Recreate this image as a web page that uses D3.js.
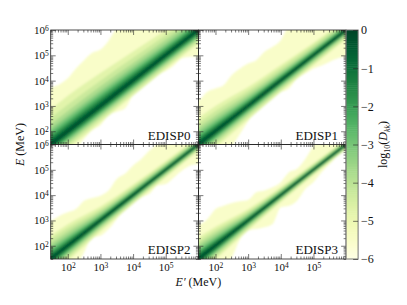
<!DOCTYPE html>
<html>
<head>
<meta charset="utf-8">
<script src="https://cdn.jsdelivr.net/npm/d3@7"></script>
<style>
  body { margin: 0; background: #fff; }
  text { font-family: "Liberation Serif", serif; fill: #111; }
</style>
</head>
<body>
<div id="chart"></div>
<script>
// panel names
var panelNames = ["EDISP0", "EDISP1", "EDISP2", "EDISP3"];

// log10 E' where the outer (-6) edge was read
var outerKnots = [1.25, 1.5, 1.75, 2, 2.25, 2.5, 2.75, 3, 3.25, 3.5, 3.75, 4, 4.25, 4.5, 4.75, 5, 5.25, 5.5, 5.75, 6, 6.25];

// outer edge, log10 E
var outerUpper0 = [3.6, 3.73, 3.86, 4.09, 4.48, 4.81, 5.1, 5.23, 5.58, 6.1, 6.5, 6.5, 6.5, 6.5, 6.5, 6.5, 6.5, 6.5, 6.5, 6.5, 6.5];
var outerLower0 = [1, 1, 1, 1, 1.3, 1.7, 2.04, 2.24, 2.63, 2.77, 2.9, 3.43, 3.73, 3.98, 4.22, 4.38, 4.6, 4.88, 4.94, 4.94, 4.94];
var outerUpper1 = [3.1, 3.23, 3.56, 3.69, 3.82, 4.22, 4.48, 4.68, 4.81, 5.14, 5.34, 5.6, 6.2, 6.5, 6.5, 6.5, 6.5, 6.5, 6.5, 6.5, 6.5];
var outerLower1 = [1, 1, 1, 1, 1, 1.4, 1.9, 2.4, 2.83, 3.3, 3.5, 3.56, 3.69, 4.09, 4.28, 4.48, 4.6, 4.75, 4.88, 4.94, 4.94];
var outerUpper2 = [2.9, 3.0, 3.19, 3.32, 3.45, 3.78, 3.89, 3.98, 4.18, 4.64, 4.84, 5.17, 5.43, 5.76, 6.05, 6.5, 6.5, 6.5, 6.5, 6.5, 6.5];
var outerLower2 = [1, 1, 1, 1, 1.2, 1.74, 2.33, 2.4, 2.66, 3.05, 3.45, 3.72, 3.91, 4.05, 4.38, 4.44, 4.7, 4.97, 5.17, 5.23, 5.23];
var outerUpper3 = [2.9, 2.86, 3.05, 3.45, 3.58, 3.69, 3.76, 3.81, 4.11, 4.18, 4.31, 4.51, 4.9, 5.04, 5.43, 5.96, 6.5, 6.5, 6.5, 6.5, 6.5];
var outerLower3 = [1, 1, 1, 1, 1.3, 1.55, 2.26, 2.6, 2.66, 2.73, 2.86, 3.52, 3.58, 3.78, 4.24, 4.51, 4.9, 5.23, 5.56, 5.76, 5.8];

// log10 E' where the inner contours were read
var innerKnots = [1.25, 2, 3, 4, 5, 6.25];
// log10 D_kk of each inner contour
var innerLevels = [-5, -4.5, -4, -3.5, -3, -2.5, -2, -1.5, -1, -0.5];

// inner contours, dex above/below the diagonal, one row per level
var innerUpper0 = [
  [1.35, 1.4, 1.3, 1.15, 1.0, 0.85],
  [1.05, 1.05, 1.0, 0.9, 0.8, 0.7],
  [0.8, 0.8, 0.78, 0.7, 0.62, 0.55],
  [0.62, 0.62, 0.6, 0.55, 0.48, 0.43],
  [0.5, 0.5, 0.48, 0.43, 0.38, 0.34],
  [0.4, 0.4, 0.38, 0.34, 0.3, 0.27],
  [0.31, 0.31, 0.29, 0.26, 0.23, 0.21],
  [0.23, 0.23, 0.21, 0.19, 0.17, 0.15],
  [0.15, 0.15, 0.14, 0.12, 0.11, 0.1],
  [0.08, 0.08, 0.07, 0.065, 0.06, 0.06]];
var innerLower0 = [
  [-0.7, -0.7, -0.65, -0.6, -0.55, -0.55],
  [-0.58, -0.58, -0.54, -0.5, -0.46, -0.46],
  [-0.48, -0.48, -0.45, -0.41, -0.38, -0.38],
  [-0.4, -0.4, -0.37, -0.34, -0.31, -0.31],
  [-0.33, -0.33, -0.31, -0.28, -0.26, -0.26],
  [-0.27, -0.27, -0.25, -0.23, -0.21, -0.21],
  [-0.22, -0.22, -0.2, -0.18, -0.16, -0.16],
  [-0.16, -0.16, -0.15, -0.13, -0.12, -0.12],
  [-0.11, -0.11, -0.1, -0.09, -0.08, -0.08],
  [-0.06, -0.06, -0.06, -0.05, -0.05, -0.05]];
var innerUpper1 = [
  [1.05, 1.0, 0.75, 0.62, 0.5, 0.42],
  [0.85, 0.8, 0.6, 0.5, 0.42, 0.35],
  [0.68, 0.62, 0.47, 0.38, 0.32, 0.28],
  [0.54, 0.48, 0.36, 0.3, 0.25, 0.22],
  [0.43, 0.38, 0.28, 0.23, 0.2, 0.17],
  [0.34, 0.3, 0.22, 0.19, 0.16, 0.14],
  [0.26, 0.23, 0.17, 0.14, 0.12, 0.11],
  [0.2, 0.17, 0.13, 0.11, 0.09, 0.085],
  [0.13, 0.11, 0.09, 0.08, 0.07, 0.065],
  [0.07, 0.065, 0.05, 0.045, 0.04, 0.04]];
var innerLower1 = [
  [-0.68, -0.65, -0.55, -0.45, -0.4, -0.35],
  [-0.56, -0.53, -0.44, -0.37, -0.33, -0.29],
  [-0.46, -0.43, -0.35, -0.3, -0.26, -0.23],
  [-0.38, -0.35, -0.28, -0.24, -0.21, -0.18],
  [-0.31, -0.28, -0.22, -0.19, -0.16, -0.14],
  [-0.25, -0.23, -0.18, -0.15, -0.13, -0.12],
  [-0.2, -0.18, -0.14, -0.115, -0.1, -0.09],
  [-0.15, -0.13, -0.1, -0.085, -0.08, -0.075],
  [-0.1, -0.09, -0.07, -0.065, -0.06, -0.06],
  [-0.06, -0.055, -0.045, -0.04, -0.035, -0.035]];
var innerUpper2 = [
  [0.95, 0.85, 0.55, 0.42, 0.35, 0.3],
  [0.8, 0.7, 0.44, 0.34, 0.28, 0.25],
  [0.65, 0.55, 0.35, 0.27, 0.23, 0.2],
  [0.52, 0.43, 0.27, 0.21, 0.18, 0.16],
  [0.42, 0.34, 0.21, 0.17, 0.14, 0.13],
  [0.33, 0.27, 0.17, 0.13, 0.11, 0.1],
  [0.25, 0.2, 0.13, 0.1, 0.09, 0.08],
  [0.19, 0.15, 0.1, 0.08, 0.07, 0.065],
  [0.13, 0.1, 0.075, 0.06, 0.055, 0.05],
  [0.07, 0.06, 0.045, 0.04, 0.035, 0.035]];
var innerLower2 = [
  [-0.65, -0.6, -0.45, -0.35, -0.3, -0.27],
  [-0.54, -0.49, -0.36, -0.28, -0.24, -0.22],
  [-0.45, -0.4, -0.29, -0.23, -0.19, -0.17],
  [-0.37, -0.32, -0.23, -0.18, -0.15, -0.14],
  [-0.3, -0.26, -0.18, -0.14, -0.12, -0.11],
  [-0.25, -0.21, -0.14, -0.11, -0.1, -0.09],
  [-0.2, -0.16, -0.11, -0.09, -0.08, -0.07],
  [-0.15, -0.12, -0.08, -0.07, -0.06, -0.055],
  [-0.1, -0.08, -0.06, -0.05, -0.045, -0.045],
  [-0.06, -0.05, -0.04, -0.035, -0.03, -0.03]];
var innerUpper3 = [
  [0.9, 0.75, 0.45, 0.32, 0.26, 0.22],
  [0.75, 0.62, 0.36, 0.26, 0.21, 0.18],
  [0.62, 0.5, 0.29, 0.21, 0.17, 0.15],
  [0.5, 0.4, 0.23, 0.17, 0.14, 0.12],
  [0.4, 0.31, 0.18, 0.13, 0.11, 0.1],
  [0.32, 0.25, 0.14, 0.105, 0.09, 0.08],
  [0.25, 0.19, 0.11, 0.085, 0.075, 0.07],
  [0.19, 0.15, 0.09, 0.07, 0.06, 0.055],
  [0.13, 0.1, 0.065, 0.055, 0.05, 0.045],
  [0.07, 0.06, 0.04, 0.035, 0.03, 0.03]];
var innerLower3 = [
  [-0.65, -0.55, -0.4, -0.28, -0.22, -0.2],
  [-0.54, -0.45, -0.32, -0.23, -0.18, -0.16],
  [-0.45, -0.37, -0.26, -0.18, -0.14, -0.13],
  [-0.37, -0.3, -0.2, -0.14, -0.115, -0.105],
  [-0.3, -0.25, -0.16, -0.11, -0.09, -0.085],
  [-0.25, -0.2, -0.13, -0.09, -0.075, -0.07],
  [-0.2, -0.16, -0.1, -0.075, -0.065, -0.06],
  [-0.15, -0.12, -0.08, -0.06, -0.055, -0.05],
  [-0.1, -0.08, -0.055, -0.045, -0.04, -0.04],
  [-0.06, -0.05, -0.035, -0.03, -0.027, -0.025]];

var outerUpper = [outerUpper0, outerUpper1, outerUpper2, outerUpper3];
var outerLower = [outerLower0, outerLower1, outerLower2, outerLower3];
var innerUpper = [innerUpper0, innerUpper1, innerUpper2, innerUpper3];
var innerLower = [innerLower0, innerLower1, innerLower2, innerLower3];

// axis ticks
var majorX = [1e2, 1e3, 1e4, 1e5];
var majorY = [1e2, 1e3, 1e4, 1e5, 1e6];
var minorTicks = [];
[1, 2, 3, 4, 5].forEach(function(e) {
  [2, 3, 4, 5, 6, 7, 8, 9].forEach(function(m) {
    if (m * Math.pow(10, e) >= 30) minorTicks.push(m * Math.pow(10, e));
  });
});
var colorTicks = [0, -1, -2, -3, -4, -5, -6];

// layout
var left = 50.7, top_ = 30, panelW = 147.7, panelH = 114.5, barW = 12;

var svg = d3.select("#chart").append("svg")
  .attr("width", 407)
  .attr("height", 305)
  .style("display", "block");

var defs = svg.append("defs");
defs.append("filter").attr("id", "soft")
  .attr("x", "-5%").attr("y", "-5%").attr("width", "110%").attr("height", "110%")
  .append("feGaussianBlur").attr("stdDeviation", 0.8);
defs.append("clipPath").attr("id", "panelClip").append("rect")
  .attr("width", panelW).attr("height", panelH);

var x = d3.scaleLog().domain([30, 1e6]).range([0, panelW]);
var y = d3.scaleLog().domain([30, 1e6]).range([panelH, 0]);
var color = d3.scaleSequential(d3.interpolateYlGn).domain([-6, 0]);

function powerLabel(sel) {
  sel.each(function(d) {
    var t = d3.select(this).text("10");
    t.append("tspan")
      .attr("dy", "-0.38em")
      .style("font-size", "7.5px")
      .text(Math.round(Math.log10(d)));
  });
}

panelNames.forEach(function(name, i) {
  var col = i % 2, row = Math.floor(i / 2);
  var g = svg.append("g")
    .attr("transform", `translate(${left + col * panelW}, ${top_ + row * panelH})`);

  var plot = g.append("g").attr("clip-path", "url(#panelClip)")
    .append("g").attr("filter", "url(#soft)");

  // outer band
  var outer = d3.area()
    .curve(d3.curveMonotoneX)
    .x(function(d, j) { return x(Math.pow(10, outerKnots[j])); })
    .y0(function(d, j) { return y(Math.pow(10, outerLower[i][j])); })
    .y1(function(d, j) { return y(Math.pow(10, outerUpper[i][j])); });
  plot.append("path")
    .attr("d", outer(outerKnots))
    .attr("fill", color(-5.5));

  // inner bands, widest first
  innerLevels.forEach(function(level, k) {
    var next = k + 1 < innerLevels.length ? innerLevels[k + 1] : 0;
    var band = d3.area()
      .curve(d3.curveMonotoneX)
      .x(function(d) { return x(Math.pow(10, d)); })
      .y0(function(d, j) { return y(Math.pow(10, d + innerLower[i][k][j])); })
      .y1(function(d, j) { return y(Math.pow(10, d + innerUpper[i][k][j])); });
    plot.append("path")
      .attr("d", band(innerKnots))
      .attr("fill", color((level + next) / 2));
  });

  // ticks on all four sides, pointing in
  function addAxis(axisFn, scale, values, len, tx, ty) {
    var a = g.append("g")
      .attr("transform", `translate(${tx}, ${ty})`)
      .call(axisFn(scale).tickValues(values).tickSizeInner(-len).tickSizeOuter(0).tickFormat(""));
    a.select(".domain").remove();
    a.selectAll("line").attr("stroke", "#222").attr("stroke-width", 0.6);
    a.selectAll("text").remove();
  }
  [[majorX.concat([1e6]), 5], [minorTicks, 2.5]].forEach(function(t) {
    addAxis(d3.axisBottom, x, t[0], t[1], 0, panelH);
    addAxis(d3.axisTop, x, t[0], t[1], 0, 0);
  });
  [[majorY, 5], [minorTicks, 2.5]].forEach(function(t) {
    addAxis(d3.axisLeft, y, t[0], t[1], 0, 0);
    addAxis(d3.axisRight, y, t[0], t[1], panelW, 0);
  });

  g.append("rect")
    .attr("width", panelW).attr("height", panelH)
    .attr("fill", "none").attr("stroke", "#222").attr("stroke-width", 0.8);

  g.append("text")
    .attr("x", panelW - 8).attr("y", panelH - 5)
    .attr("text-anchor", "end")
    .style("font-size", "13px")
    .text(name);

  if (col === 0) {
    var yLabels = g.append("g")
      .attr("transform", "translate(-2, 0)")
      .call(d3.axisLeft(y).tickValues(majorY).tickSize(0).tickPadding(0));
    yLabels.select(".domain").remove();
    yLabels.selectAll("text")
      .style("font-size", "11px").style("font-family", "Liberation Serif").attr("fill", "#111")
      .call(powerLabel);
  }
  if (row === 1) {
    var xLabels = g.append("g")
      .attr("transform", `translate(0, ${panelH + 4})`)
      .call(d3.axisBottom(x).tickValues(majorX).tickSize(0).tickPadding(0));
    xLabels.select(".domain").remove();
    xLabels.selectAll("text")
      .style("font-size", "11px").style("font-family", "Liberation Serif").attr("fill", "#111")
      .call(powerLabel);
  }
});

// colour bar
var barX = left + 2 * panelW;
var barScale = d3.scaleLinear().domain([-6, 0]).range([top_ + 2 * panelH, top_]);
var bar = svg.append("g");
bar.selectAll("rect")
  .data(d3.range(-6, 0, 0.05))
  .enter()
  .append("rect")
  .attr("x", barX)
  .attr("y", d => barScale(d + 0.05))
  .attr("width", barW)
  .attr("height", d => barScale(d) - barScale(d + 0.05) + 0.5)
  .attr("fill", d => color(d + 0.025));
bar.append("rect")
  .attr("x", barX).attr("y", top_)
  .attr("width", barW).attr("height", 2 * panelH)
  .attr("fill", "none").attr("stroke", "#777").attr("stroke-width", 1);

var barAxis = svg.append("g")
  .attr("transform", `translate(${barX + barW}, 0)`)
  .call(d3.axisRight(barScale).tickValues(colorTicks).tickSizeInner(-5).tickSizeOuter(0).tickPadding(3)
    .tickFormat(d => d === 0 ? "0" : "\u2212" + Math.abs(d)));
barAxis.select(".domain").remove();
barAxis.selectAll("line").attr("stroke", "#222").attr("stroke-width", 0.6);
barAxis.selectAll("text")
  .attr("x", 3)
  .style("font-size", "12px").style("font-family", "Liberation Serif").attr("fill", "#111");

// axis labels
svg.append("text")
  .attr("transform", `translate(24, ${top_ + panelH}) rotate(-90)`)
  .attr("text-anchor", "middle")
  .style("font-size", "12px")
  .html('<tspan font-style="italic">E</tspan> (MeV)');

svg.append("text")
  .attr("x", left + panelW).attr("y", 286)
  .attr("text-anchor", "middle")
  .style("font-size", "12px")
  .html('<tspan font-style="italic">E\u2032</tspan> (MeV)');

svg.append("text")
  .attr("transform", `translate(387, ${top_ + panelH}) rotate(-90)`)
  .attr("text-anchor", "middle")
  .style("font-size", "12px")
  .html('log<tspan dy="2.5" font-size="8">10</tspan><tspan dy="-2.5">(</tspan><tspan font-style="italic">D</tspan><tspan dy="2.5" font-size="8" font-style="italic">kk</tspan><tspan dy="-2.5">)</tspan>');
</script>
</body>
</html>
